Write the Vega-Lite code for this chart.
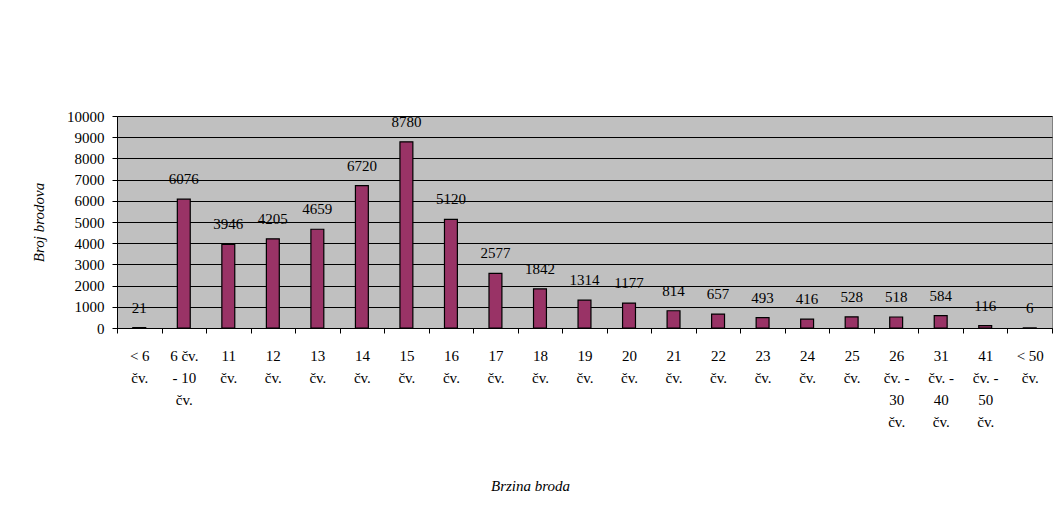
{
  "$schema": "https://vega.github.io/schema/vega-lite/v6.json",
  "autosize": {"type": "none"},
  "width": 935,
  "height": 212,
  "padding": {"left": 117, "top": 116, "right": 4, "bottom": 185},
  "background": "white",
  "data": {
    "values": [
      {"brzina": "< 6|čv.", "broj": 21},
      {"brzina": "6 čv.|- 10|čv.", "broj": 6076},
      {"brzina": "11|čv.", "broj": 3946},
      {"brzina": "12|čv.", "broj": 4205},
      {"brzina": "13|čv.", "broj": 4659},
      {"brzina": "14|čv.", "broj": 6720},
      {"brzina": "15|čv.", "broj": 8780},
      {"brzina": "16|čv.", "broj": 5120},
      {"brzina": "17|čv.", "broj": 2577},
      {"brzina": "18|čv.", "broj": 1842},
      {"brzina": "19|čv.", "broj": 1314},
      {"brzina": "20|čv.", "broj": 1177},
      {"brzina": "21|čv.", "broj": 814},
      {"brzina": "22|čv.", "broj": 657},
      {"brzina": "23|čv.", "broj": 493},
      {"brzina": "24|čv.", "broj": 416},
      {"brzina": "25|čv.", "broj": 528},
      {"brzina": "26|čv. -|30|čv.", "broj": 518},
      {"brzina": "31|čv. -|40|čv.", "broj": 584},
      {"brzina": "41|čv. -|50|čv.", "broj": 116},
      {"brzina": "< 50|čv.", "broj": 6}
    ]
  },
  "encoding": {
    "x": {
      "field": "brzina",
      "type": "nominal",
      "sort": null,
      "scale": {"paddingInner": 0, "paddingOuter": 0},
      "axis": {
        "title": "Brzina broda",
        "titleFont": "Liberation Serif",
        "titleFontStyle": "italic",
        "titleFontWeight": "normal",
        "titleFontSize": 15,
        "titleColor": "black",
        "titleX": 413,
        "titleY": 150,
        "labelExpr": "split(datum.label, '|')",
        "labelAngle": 0,
        "labelFont": "Liberation Serif",
        "labelFontSize": 15,
        "labelColor": "black",
        "labelLineHeight": 22,
        "labelBaseline": "top",
        "labelPadding": 15,
        "tickBand": "extent",
        "tickColor": "black",
        "tickSize": 5,
        "domainColor": "black",
        "grid": false
      }
    },
    "y": {
      "field": "broj",
      "type": "quantitative",
      "scale": {"domain": [0, 10000], "nice": false},
      "axis": {
        "title": "Broj brodova",
        "titleFont": "Liberation Serif",
        "titleFontStyle": "italic",
        "titleFontWeight": "normal",
        "titleFontSize": 15,
        "titleColor": "black",
        "titlePadding": 20,
        "values": [0, 1000, 2000, 3000, 4000, 5000, 6000, 7000, 8000, 9000, 10000],
        "format": "d",
        "labelFont": "Liberation Serif",
        "labelFontSize": 15,
        "labelColor": "black",
        "labelPadding": 8,
        "tickColor": "black",
        "tickSize": 5,
        "domainColor": "black",
        "grid": true,
        "gridColor": "black",
        "gridOpacity": 1,
        "gridWidth": 1
      }
    }
  },
  "layer": [
    {
      "mark": {
        "type": "bar",
        "width": {"band": 0.29},
        "fill": "#993366",
        "stroke": "black",
        "strokeWidth": 1.2
      }
    },
    {
      "mark": {
        "type": "text",
        "dy": -20,
        "baseline": "middle",
        "align": "center",
        "font": "Liberation Serif",
        "fontSize": 15,
        "color": "black"
      },
      "encoding": {"text": {"field": "broj", "type": "quantitative", "format": "d"}}
    }
  ],
  "config": {
    "view": {"fill": "#C0C0C0", "stroke": "#808080", "strokeWidth": 1}
  }
}
